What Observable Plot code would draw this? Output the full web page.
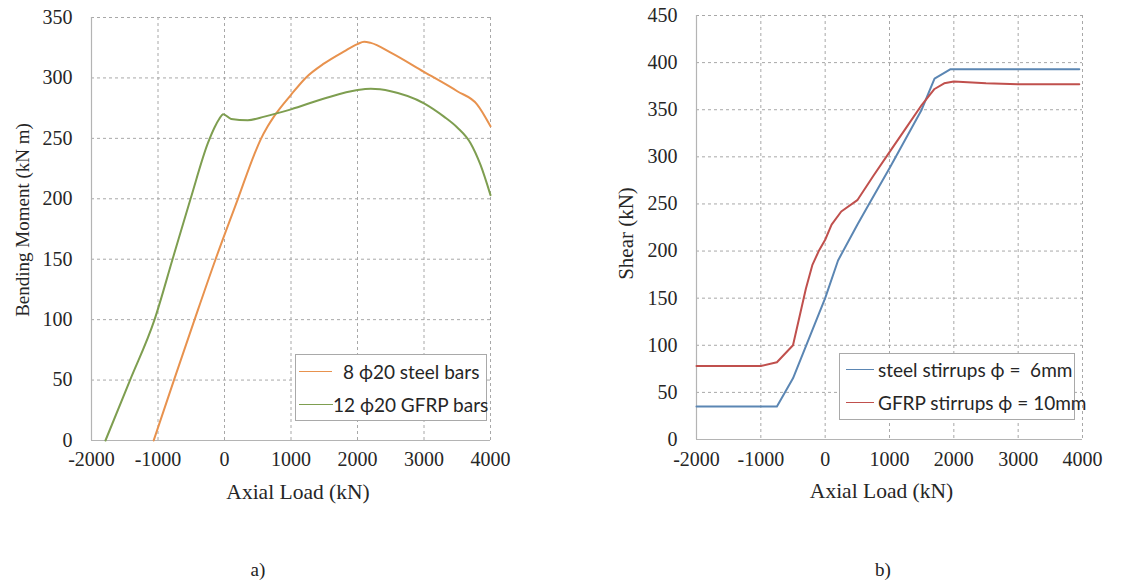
<!DOCTYPE html>
<html>
<head>
<meta charset="utf-8">
<script src="https://cdn.jsdelivr.net/npm/d3@7"></script>
<script src="https://cdn.jsdelivr.net/npm/@observablehq/plot@0.6"></script>
<style>
  body { margin:0; width:1137px; height:584px; background:#fff; position:relative; overflow:hidden; }
  .panel { position:absolute; top:0; }
  .legend { position:absolute; background:#fff; border:1px solid #a9a9a9; box-sizing:border-box;
            font-family: Lato, "Open Sans", sans-serif; font-size:19px; color:#262626; }
  .legend .sw { position:absolute; height:0; border-top:1.5px solid; }
  .legend .lb { position:absolute; white-space:pre; line-height:1; transform:translateY(-52%); }
  .cap { position:absolute; font-family:"Liberation Serif", serif; font-size:19px; color:#222; transform:translate(-50%,-50%); }
</style>
</head>
<body>
<div id="pa" class="panel" style="left:0"></div>
<div id="pb" class="panel" style="left:580px"></div>
<div id="la" class="legend" style="left:295px;top:354px;width:192px;height:67px"></div>
<div id="lb" class="legend" style="left:839px;top:353px;width:236px;height:67px"></div>
<div class="cap" style="left:258px;top:570px">a)</div>
<div class="cap" style="left:883px;top:570px">b)</div>
<script>
// ---- data ----
const xTicks = [-2000, -1000, 0, 1000, 2000, 3000, 4000];
const momentTicks = [0, 50, 100, 150, 200, 250, 300, 350];
const shearTicks = [0, 50, 100, 150, 200, 250, 300, 350, 400, 450];

const steelBarsLoad   = [-1065, -760, -450, -134, 202, 450, 543, 650, 743, 1000, 1220, 1500, 1800, 2000, 2100, 2200, 2500, 3000, 3500, 3800, 4000];
const steelBarsMoment = [0, 50, 100, 150, 200, 237, 249, 260, 268, 286, 300, 312, 322, 328, 330, 329, 321, 305, 289, 278, 260];

const gfrpBarsLoad   = [-1790, -1420, -1052, -781, -510, -250, -150, -80, -20, 100, 350, 600, 1000, 1500, 2000, 2200, 2500, 3000, 3300, 3500, 3700, 3850, 4000];
const gfrpBarsMoment = [0, 50, 100, 150, 200, 246, 259, 266, 270, 266, 265, 268, 274, 283, 290, 291, 289, 279, 268, 259, 246, 228, 203];

const steelStirrupLoad  = [-2000, -750, -500, 0, 200, 500, 700, 1000, 1500, 1700, 1950, 3950];
const steelStirrupShear = [35, 35, 65, 150, 190, 228, 252, 288, 350, 383, 393, 393];

const gfrpStirrupLoad  = [-2000, -1000, -750, -500, -300, -200, -100, 0, 100, 250, 500, 750, 1000, 1250, 1500, 1700, 1850, 2000, 2500, 3000, 3950];
const gfrpStirrupShear = [78, 78, 82, 100, 160, 185, 200, 212, 228, 242, 254, 280, 305, 330, 355, 372, 378, 380, 378, 377, 377];

const legendA = ["8 \u03d520 steel bars", "12 \u03d520 GFRP bars"];
const legendB = ["steel stirrups \u03d5 =  6mm", "GFRP stirrups \u03d5 = 10mm"];
const colorsA = ["#E8924E", "#7E9E50"];
const colorsB = ["#5B86B3", "#C0504D"];

const xLabel = "Axial Load (kN)";
const yLabelA = "Bending Moment (kN m)";
const yLabelB = "Shear (kN)";

const serif = "Liberation Serif";

function zip(xs, ys) { return xs.map((x, i) => ({x, y: ys[i]})); }

function panel({width, marginLeft, marginRight, marginTop, marginBottom, yTicks, series, colors, curve, yLabel, ydx, ydy, ySize, xdx, tickDy}) {
  const gridStyle = {stroke: "#a8a8a8", strokeOpacity: 1, strokeDasharray: "3,3", strokeWidth: 1};
  return Plot.plot({
    width, height: 520, marginLeft, marginRight, marginTop, marginBottom,
    style: {fontFamily: serif, fontSize: "19px", color: "#262626", background: "transparent"},
    x: {domain: [xTicks[0], xTicks[xTicks.length - 1]], axis: null},
    y: {domain: [yTicks[0], yTicks[yTicks.length - 1]], axis: null},
    marks: [
      Plot.ruleX(xTicks.slice(1), gridStyle),
      Plot.ruleY(yTicks.slice(1), gridStyle),
      Plot.ruleX([xTicks[0]], {stroke: "#b4b4b4", strokeWidth: 1.2}),
      Plot.ruleY([yTicks[0]], {stroke: "#b4b4b4", strokeWidth: 1.2}),
      ...series.map((s, i) => Plot.line(s, {x: "x", y: "y", stroke: colors[i], strokeWidth: 2, curve})),
      Plot.text(xTicks, {x: d => d, text: d => String(d), frameAnchor: "bottom", dy: tickDy, fontSize: 20, fontFamily: serif}),
      Plot.text(yTicks, {y: d => d, text: d => String(d), frameAnchor: "left", textAnchor: "end", dx: -19, fontSize: 20, fontFamily: serif}),
      Plot.text([xLabel], {text: d => d, frameAnchor: "bottom", dx: xdx, dy: 58, fontSize: 21.5, fontFamily: serif}),
      Plot.text([yLabel], {text: d => d, frameAnchor: "left", textAnchor: "middle", dx: ydx, dy: ydy, rotate: -90, fontSize: ySize, fontFamily: serif})
    ]
  });
}

document.getElementById("pa").appendChild(panel({
  width: 520, marginLeft: 91, marginRight: 30, marginTop: 17, marginBottom: 80,
  yTicks: momentTicks,
  series: [zip(steelBarsLoad, steelBarsMoment), zip(gfrpBarsLoad, gfrpBarsMoment)],
  colors: colorsA, curve: "monotone-x", yLabel: yLabelA, ydx: -69, ydy: -9, ySize: 19, xdx: 7, tickDy: 25
}));

document.getElementById("pb").appendChild(panel({
  width: 550, marginLeft: 116, marginRight: 48, marginTop: 15, marginBottom: 81,
  yTicks: shearTicks,
  series: [zip(steelStirrupLoad, steelStirrupShear), zip(gfrpStirrupLoad, gfrpStirrupShear)],
  colors: colorsB, curve: "linear", yLabel: yLabelB, ydx: -70, ydy: 6, ySize: 21, xdx: -8, tickDy: 26
}));

function legend(el, labels, colors, rows) {
  labels.forEach((t, i) => {
    const r = rows[i];
    const sw = document.createElement("div");
    sw.className = "sw";
    sw.style.left = r.x1 + "px"; sw.style.width = (r.x2 - r.x1) + "px"; sw.style.top = (r.y - 1) + "px";
    sw.style.borderTopColor = colors[i];
    el.appendChild(sw);
    const lb = document.createElement("div");
    lb.className = "lb";
    lb.textContent = t;
    lb.style.left = r.tx + "px"; lb.style.top = r.y + "px";
    el.appendChild(lb);
  });
}
legend(document.getElementById("la"), legendA, colorsA, [{x1: 3, x2: 36, y: 17, tx: 47}, {x1: 3, x2: 37, y: 50, tx: 37}]);
legend(document.getElementById("lb"), legendB, colorsB, [{x1: 6, x2: 34, y: 16, tx: 38}, {x1: 6, x2: 34, y: 49, tx: 38}]);
</script>
</body>
</html>
